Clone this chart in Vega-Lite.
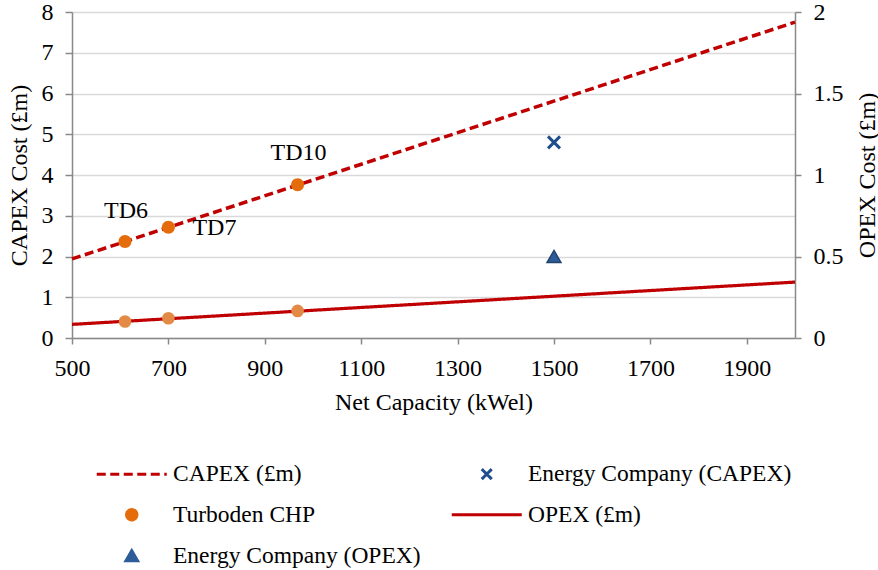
{
  "$schema": "https://vega.github.io/schema/vega-lite/v6.json",
  "width": 723,
  "height": 326,
  "autosize": {"type": "none"},
  "padding": {"left": 72, "top": 12, "right": 83, "bottom": 232},
  "background": "white",
  "config": {
    "view": {"stroke": null},
    "font": "Liberation Serif, Tinos, Times New Roman, DejaVu Serif, serif",
    "text": {"font": "Liberation Serif, Tinos, Times New Roman, DejaVu Serif, serif"},
    "axis": {
      "labelFont": "Liberation Serif, Tinos, Times New Roman, DejaVu Serif, serif",
      "titleFont": "Liberation Serif, Tinos, Times New Roman, DejaVu Serif, serif",
      "labelFontSize": 24,
      "titleFontSize": 24,
      "titleFontWeight": "normal",
      "labelColor": "#000000",
      "titleColor": "#000000",
      "domainColor": "#898989",
      "tickColor": "#898989",
      "domainWidth": 1.5,
      "tickWidth": 1.5,
      "gridColor": "#D9D9D9",
      "gridWidth": 1.5,
      "labelFlush": false
    },
    "legend": {
      "orient": "none", "legendX": 25, "legendY": 450, "columns": 2, "columnPadding": 24, "rowPadding": 16,
      "symbolSize": 400, "symbolStrokeWidth": 3, "symbolOffset": 23, "labelOffset": 29.5,
      "labelFont": "Liberation Serif, Tinos, Times New Roman, DejaVu Serif, serif", "labelFontSize": 23.5, "labelLimit": 400, "labelColor": "#000000", "symbolOpacity": 1, "padding": 0
    }
  },
  "data": {
    "values": [
      {"series": "CAPEX (£m)", "measure": "CAPEX", "kw": 500, "value": 1.94},
      {"series": "CAPEX (£m)", "measure": "CAPEX", "kw": 2000, "value": 7.75},
      {"series": "OPEX (£m)", "measure": "OPEX", "kw": 500, "value": 0.0835},
      {"series": "OPEX (£m)", "measure": "OPEX", "kw": 2000, "value": 0.343},
      {"series": "Turboden CHP", "measure": "CAPEX", "kw": 610, "value": 2.37, "label": "TD6"},
      {"series": "Turboden CHP", "measure": "CAPEX", "kw": 700, "value": 2.72, "label": "TD7"},
      {"series": "Turboden CHP", "measure": "CAPEX", "kw": 968, "value": 3.76, "label": "TD10"},
      {"series": "Turboden CHP", "measure": "OPEX", "kw": 610, "value": 0.101},
      {"series": "Turboden CHP", "measure": "OPEX", "kw": 700, "value": 0.121},
      {"series": "Turboden CHP", "measure": "OPEX", "kw": 968, "value": 0.166},
      {"series": "Energy Company (CAPEX)", "measure": "CAPEX", "kw": 1500, "value": 4.8},
      {"series": "Energy Company (OPEX)", "measure": "OPEX", "kw": 1500, "value": 0.5}
    ]
  },
  "layer": [
    {
      "encoding": {
        "x": {
          "field": "kw", "type": "quantitative",
          "scale": {"domain": [500, 2000], "nice": false, "zero": false},
          "axis": {"orient": "bottom", "values": [500, 700, 900, 1100, 1300, 1500, 1700, 1900], "format": "d", "grid": false, "tickSize": 6, "labelPadding": 12, "titlePadding": 10, "title": "Net Capacity (kWel)"}
        },
        "y": {
          "field": "value", "type": "quantitative",
          "scale": {"domain": [0, 8], "nice": false},
          "axis": {"orient": "left", "values": [0, 1, 2, 3, 4, 5, 6, 7, 8], "grid": true, "tickSize": 7, "labelPadding": 12, "titlePadding": 10, "title": "CAPEX Cost (£m)"}
        }
      },
      "layer": [
        {
          "transform": [{"filter": "datum.series === 'CAPEX (£m)'"}],
          "mark": {"type": "line", "strokeWidth": 3.5},
          "encoding": {
            "color": {
              "field": "series", "type": "nominal", "legend": {"title": null},
              "scale": {"domain": ["CAPEX (£m)", "Turboden CHP", "Energy Company (OPEX)", "Energy Company (CAPEX)", "OPEX (£m)"], "range": ["#C00000", "#E46C0A", "#2E5C99", "#1F4E8C", "#C00000"]}
            },
            "strokeDash": {
              "field": "series", "type": "nominal", "legend": {"title": null},
              "scale": {"domain": ["CAPEX (£m)", "Turboden CHP", "Energy Company (OPEX)", "Energy Company (CAPEX)", "OPEX (£m)"], "range": [[9, 4.5], [1, 0], [1, 0], [1, 0], [1, 0]]}
            }
          }
        },
        {
          "transform": [{"filter": "datum.series === 'Turboden CHP' && datum.measure === 'CAPEX'"}],
          "mark": {"type": "point", "filled": true, "size": 625, "opacity": 1},
          "encoding": {
            "color": {
              "field": "series", "type": "nominal", "legend": {"title": null},
              "scale": {"domain": ["CAPEX (£m)", "Turboden CHP", "Energy Company (OPEX)", "Energy Company (CAPEX)", "OPEX (£m)"], "range": ["#C00000", "#E46C0A", "#2E5C99", "#1F4E8C", "#C00000"]}
            },
            "shape": {
              "field": "series", "type": "nominal", "legend": {"title": null},
              "scale": {"domain": ["CAPEX (£m)", "Turboden CHP", "Energy Company (OPEX)", "Energy Company (CAPEX)", "OPEX (£m)"], "range": ["M-3.5,0H3.5", "M-0.52,0A0.52,0.52,0,1,1,0.52,0A0.52,0.52,0,1,1,-0.52,0Z", "M0,-0.5L0.58,0.5L-0.58,0.5Z", "M-0.5,-0.5L0.5,0.5M-0.5,0.5L0.5,-0.5", "M-3.5,0H3.5"]}
            }
          }
        },
        {
          "transform": [{"filter": "datum.series === 'Energy Company (CAPEX)'"}],
          "mark": {"type": "point", "filled": false, "size": 576, "strokeWidth": 3, "opacity": 1},
          "encoding": {
            "color": {
              "field": "series", "type": "nominal", "legend": {"title": null},
              "scale": {"domain": ["CAPEX (£m)", "Turboden CHP", "Energy Company (OPEX)", "Energy Company (CAPEX)", "OPEX (£m)"], "range": ["#C00000", "#E46C0A", "#2E5C99", "#1F4E8C", "#C00000"]}
            },
            "shape": {
              "field": "series", "type": "nominal", "legend": {"title": null},
              "scale": {"domain": ["CAPEX (£m)", "Turboden CHP", "Energy Company (OPEX)", "Energy Company (CAPEX)", "OPEX (£m)"], "range": ["M-3.5,0H3.5", "M-0.52,0A0.52,0.52,0,1,1,0.52,0A0.52,0.52,0,1,1,-0.52,0Z", "M0,-0.5L0.58,0.5L-0.58,0.5Z", "M-0.5,-0.5L0.5,0.5M-0.5,0.5L0.5,-0.5", "M-3.5,0H3.5"]}
            }
          }
        },
        {
          "transform": [{"filter": "datum.label === 'TD6'"}],
          "mark": {"type": "text", "fontSize": 24, "color": "#000000", "align": "center", "baseline": "middle", "dx": 1, "dy": -30},
          "encoding": {"text": {"field": "label"}}
        },
        {
          "transform": [{"filter": "datum.label === 'TD7'"}],
          "mark": {"type": "text", "fontSize": 24, "color": "#000000", "align": "center", "baseline": "middle", "dx": 46, "dy": 1},
          "encoding": {"text": {"field": "label"}}
        },
        {
          "transform": [{"filter": "datum.label === 'TD10'"}],
          "mark": {"type": "text", "fontSize": 24, "color": "#000000", "align": "center", "baseline": "middle", "dx": 1, "dy": -32},
          "encoding": {"text": {"field": "label"}}
        }
      ]
    },
    {
      "encoding": {
        "x": {
          "field": "kw", "type": "quantitative",
          "scale": {"domain": [500, 2000], "nice": false, "zero": false},
          "axis": {"orient": "bottom", "values": [500, 700, 900, 1100, 1300, 1500, 1700, 1900], "format": "d", "grid": false, "tickSize": 6, "labelPadding": 12, "titlePadding": 10, "title": "Net Capacity (kWel)"}
        },
        "y": {
          "field": "value", "type": "quantitative",
          "scale": {"domain": [0, 2], "nice": false},
          "axis": {"orient": "right", "values": [0, 0.5, 1, 1.5, 2], "format": ".1~f", "grid": false, "tickSize": 6, "labelPadding": 12, "titlePadding": 12, "titleAngle": 270, "titleBaseline": "top", "title": "OPEX Cost (£m)"}
        }
      },
      "layer": [
        {
          "transform": [{"filter": "datum.series === 'OPEX (£m)'"}],
          "mark": {"type": "line", "strokeWidth": 3.2},
          "encoding": {
            "color": {
              "field": "series", "type": "nominal", "legend": {"title": null},
              "scale": {"domain": ["CAPEX (£m)", "Turboden CHP", "Energy Company (OPEX)", "Energy Company (CAPEX)", "OPEX (£m)"], "range": ["#C00000", "#E46C0A", "#2E5C99", "#1F4E8C", "#C00000"]}
            },
            "strokeDash": {
              "field": "series", "type": "nominal", "legend": {"title": null},
              "scale": {"domain": ["CAPEX (£m)", "Turboden CHP", "Energy Company (OPEX)", "Energy Company (CAPEX)", "OPEX (£m)"], "range": [[9, 4.5], [1, 0], [1, 0], [1, 0], [1, 0]]}
            }
          }
        },
        {
          "transform": [{"filter": "datum.series === 'Turboden CHP' && datum.measure === 'OPEX'"}],
          "mark": {"type": "point", "shape": "circle", "filled": true, "size": 160, "opacity": 1, "color": "#E38B46"},
          "encoding": {}
        },
        {
          "transform": [{"filter": "datum.series === 'Energy Company (OPEX)'"}],
          "mark": {"type": "point", "filled": true, "size": 576, "opacity": 1, "stroke": "#23436F", "strokeWidth": 1.5},
          "encoding": {
            "color": {
              "field": "series", "type": "nominal", "legend": {"title": null},
              "scale": {"domain": ["CAPEX (£m)", "Turboden CHP", "Energy Company (OPEX)", "Energy Company (CAPEX)", "OPEX (£m)"], "range": ["#C00000", "#E46C0A", "#2E5C99", "#1F4E8C", "#C00000"]}
            },
            "shape": {
              "field": "series", "type": "nominal", "legend": {"title": null},
              "scale": {"domain": ["CAPEX (£m)", "Turboden CHP", "Energy Company (OPEX)", "Energy Company (CAPEX)", "OPEX (£m)"], "range": ["M-3.5,0H3.5", "M-0.52,0A0.52,0.52,0,1,1,0.52,0A0.52,0.52,0,1,1,-0.52,0Z", "M0,-0.5L0.58,0.5L-0.58,0.5Z", "M-0.5,-0.5L0.5,0.5M-0.5,0.5L0.5,-0.5", "M-3.5,0H3.5"]}
            }
          }
        }
      ]
    }
  ],
  "resolve": {"scale": {"y": "independent"}}
}
